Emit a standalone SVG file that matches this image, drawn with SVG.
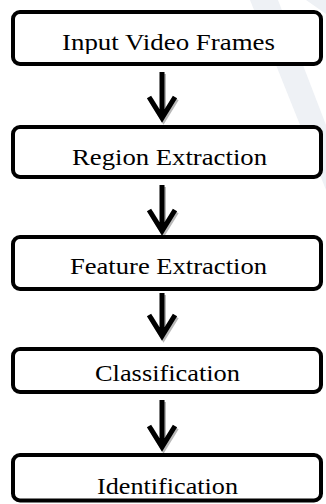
<svg xmlns="http://www.w3.org/2000/svg" width="326" height="504" viewBox="0 0 326 504">
<style>
.box{fill:#fff;stroke:#000;stroke-width:4}
.lbl{font-family:"Liberation Serif","Times New Roman",serif;font-size:24px;fill:#000;text-anchor:start}
.arr{fill:none;stroke:#000;stroke-width:5;stroke-linejoin:miter}
.sh{fill:none;stroke:#9a9a9a;stroke-width:5;stroke-linejoin:miter;opacity:0.7}
.wm{fill:#eef1f5}
</style>
<defs>
<clipPath id="c1"><rect x="0" y="0" width="326" height="54"/></clipPath>
<clipPath id="c2"><rect x="0" y="130" width="326" height="40"/></clipPath>
<clipPath id="c3"><rect x="0" y="240" width="326" height="34.5"/></clipPath>
<clipPath id="c4"><rect x="0" y="352" width="326" height="30"/></clipPath>
<clipPath id="c5"><rect x="0" y="458" width="326" height="37"/></clipPath>
</defs>
<rect width="326" height="504" fill="#fff"/>
<g id="watermark">
<polygon class="wm" points="250,0 278,0 326,125 326,190"/>
<polygon class="wm" points="306,0 326,0 326,14"/>
</g>
<g id="connectors">
<path class="sh" d="M163.5 74 V119 M150.5 99 L163.5 120 L176.5 99"/>
<path class="arr" d="M162 72 V117 M149 97 L162 118 L175 97"/>
<path class="sh" d="M163.5 187 V232 M150.5 212 L163.5 233 L176.5 212"/>
<path class="arr" d="M162 185 V230 M149 210 L162 231 L175 210"/>
<path class="sh" d="M163.5 295 V337 M150.5 317 L163.5 338 L176.5 317"/>
<path class="arr" d="M162 293 V335 M149 315 L162 336 L175 315"/>
<path class="sh" d="M163.5 402 V449 M150.5 428 L163.5 449 L176.5 428"/>
<path class="arr" d="M162 400 V446 M149 426 L162 447 L175 426"/>
</g>
<g id="n1">
<rect class="box" x="13" y="12" width="308" height="52" rx="7"/>
<text class="lbl" x="62" y="50" textLength="213" lengthAdjust="spacingAndGlyphs" clip-path="url(#c1)">Input Video Frames</text>
</g>
<g id="n2">
<rect class="box" x="13" y="127" width="308" height="50" rx="7"/>
<text class="lbl" x="72" y="165" textLength="195" lengthAdjust="spacingAndGlyphs" clip-path="url(#c2)">Region Extraction</text>
</g>
<g id="n3">
<rect class="box" x="13" y="237" width="308" height="52" rx="7"/>
<text class="lbl" x="70" y="274" textLength="197" lengthAdjust="spacingAndGlyphs" clip-path="url(#c3)">Feature Extraction</text>
</g>
<g id="n4">
<rect class="box" x="13" y="349" width="308" height="43" rx="7"/>
<text class="lbl" x="95" y="381" textLength="145" lengthAdjust="spacingAndGlyphs" clip-path="url(#c4)">Classification</text>
</g>
<g id="n5">
<rect class="box" x="13" y="455" width="308" height="45.5" rx="7"/>
<text class="lbl" x="97" y="494" textLength="141" lengthAdjust="spacingAndGlyphs" clip-path="url(#c5)">Identification</text>
</g>
</svg>
